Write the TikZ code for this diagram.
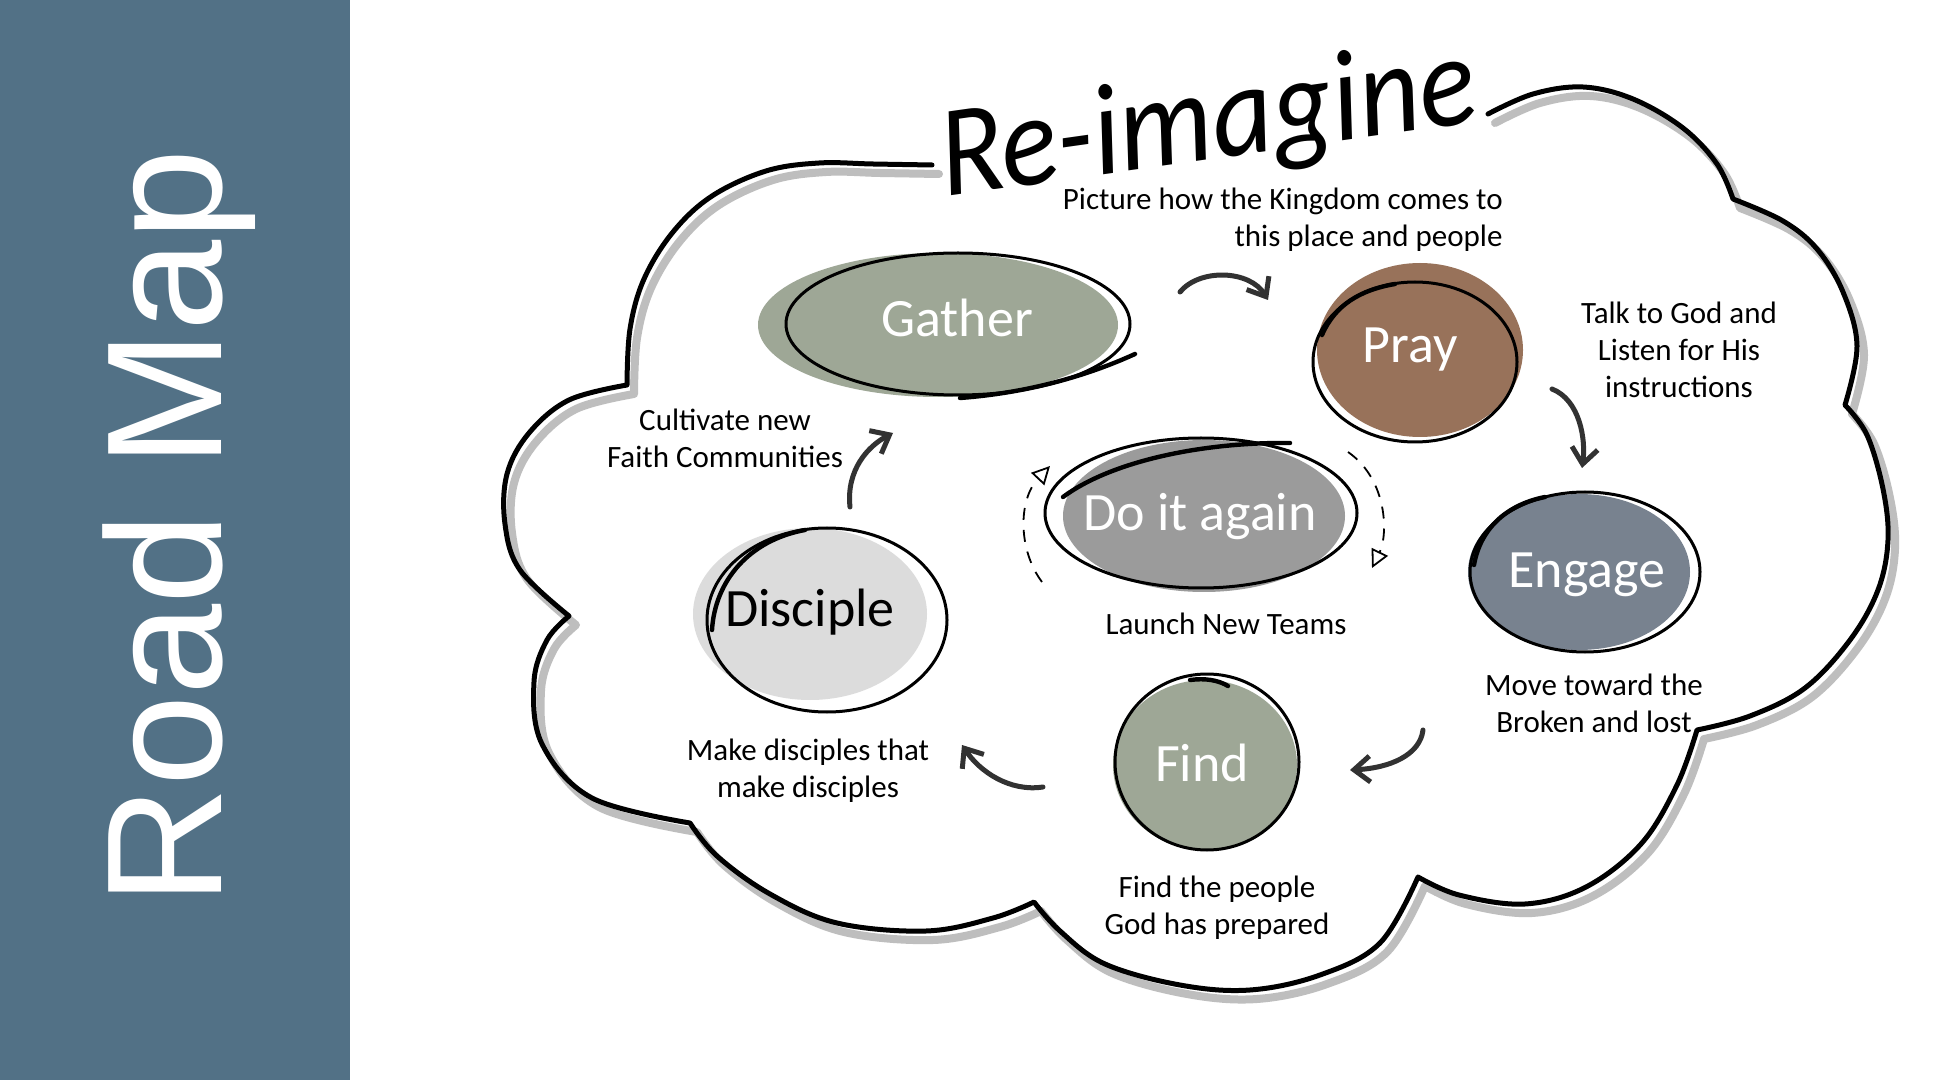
\documentclass[tikz,border=0pt]{standalone}
\usepackage{fontspec}
\setmainfont{Carlito}
\newfontfamily\panelfont{Liberation Sans}
\usetikzlibrary{arrows.meta,shapes.geometric}
\definecolor{panelblue}{RGB}{82,113,134}
\definecolor{sage}{RGB}{158,167,150}
\definecolor{brownfill}{RGB}{152,114,90}
\definecolor{slate}{RGB}{120,130,143}
\definecolor{midgrey}{RGB}{155,155,155}
\definecolor{lightgrey}{RGB}{220,220,220}
\definecolor{shadowgrey}{RGB}{190,190,190}
\definecolor{arrowgrey}{RGB}{50,50,50}
\newcommand\cloudpath{%
plot[smooth,tension=0.6] coordinates {(932,165) (873,164) (819,163) (766,171) (712,196) (673,232) (644,279) (630,329) (627,385)}
-- plot[smooth,tension=0.6] coordinates {(627,385) (569,400) (529,433) (507,474) (505,524) (520,570) (569,616)}
-- plot[smooth,tension=0.6] coordinates {(569,616) (547,640) (534,682) (542,744) (592,798) (690,823)}
-- plot[smooth,tension=0.6] coordinates {(690,823) (717,856) (770,894) (837,923) (926,931) (993,918) (1034,902)}
-- plot[smooth,tension=0.6] coordinates {(1034,902) (1060,931) (1105,964) (1180,985) (1250,990) (1320,975) (1380,943) (1418,877)}
-- plot[smooth,tension=0.6] coordinates {(1418,877) (1459,895) (1525,904) (1586,887) (1641,844) (1677,785) (1697,730)}
-- plot[smooth,tension=0.6] coordinates {(1697,730) (1750,716) (1805,688) (1850,640) (1878,590) (1888,540) (1883,489) (1867,435) (1845,405)}
-- plot[smooth,tension=0.6] coordinates {(1845,405) (1857,346) (1843,292) (1817,249) (1783,221) (1733,199)}
-- plot[smooth,tension=0.6] coordinates {(1733,199) (1717,164) (1683,128) (1633,99) (1583,87) (1533,94) (1488,114)}}
\begin{document}
\begin{tikzpicture}[x=0.5pt,y=-0.5pt,
  blob/.style={ellipse, inner sep=0pt, draw=none},
  sketch/.style={draw=black, line width=1.5pt},
  stroke/.style={draw=black, line width=2.2pt, line cap=round},
  nodetext/.style={font=\fontsize{27}{30}\selectfont, text=white, inner sep=0pt},
  lbl/.style={font=\fontsize{15.5}{18.5}\selectfont, align=center, inner sep=0pt},
  flow/.style={draw=arrowgrey, line width=2.5pt, line cap=round, -{Straight Barb[length=8pt,width=13pt,line width=2.5pt]}},
  loopy/.style={draw=black, line width=0.9pt, dash pattern=on 6pt off 5pt, -{Triangle[open,length=9pt,width=9pt,line width=0.9pt]}},
  cloudline/.style={line width=2.5pt, line join=round, line cap=round},
]
\useasboundingbox (0,0) rectangle (1934,1080);
\fill[white] (0,0) rectangle (1934,1080);
% side panel
\fill[panelblue] (0,0) rectangle (350,1080);
\node[font=\panelfont\fontsize{82}{90}\selectfont, text=white, rotate=90, anchor=base, inner sep=0pt] (title) at (221,527) {Road Map};
% cloud
\begin{scope}[shift={(7,9)}]
\draw[cloudline, draw=shadowgrey, line width=4pt] \cloudpath;
\end{scope}
\draw[cloudline, draw=black] \cloudpath;
% Re-imagine
\node[font=\itshape\fontsize{59}{62}\selectfont, rotate=8, inner sep=0pt] (reimagine) at (1208,126) {\scalebox{1}[1.1]{Re-imagine}};
% fills
\node[blob, fill=sage, minimum width=180pt, minimum height=72pt] (gatherfill) at (938,325) {};
\node[blob, fill=brownfill, minimum width=103pt, minimum height=87pt] (prayfill) at (1420,350) {};
\node[blob, fill=slate, minimum width=111pt, minimum height=78pt] (engagefill) at (1579,572) {};
\node[blob, fill=midgrey, minimum width=141pt, minimum height=76pt] (againfill) at (1204,516) {};
\node[blob, fill=lightgrey, minimum width=117pt, minimum height=86pt] (disciplefill) at (810,614) {};
\node[blob, fill=sage, minimum width=92pt, minimum height=85pt] (findfill) at (1205,765) {};
% outlines
\draw[sketch] (958,324) ellipse [x radius=86pt, y radius=35.5pt];
\draw[stroke] (960,398) .. controls (1040,392) and (1100,370) .. (1135,354);
\draw[sketch] (1415,362) ellipse [x radius=51pt, y radius=40pt];
\draw[stroke] (1322,335) .. controls (1335,305) and (1360,290) .. (1395,284);
\draw[sketch] (1585,572) ellipse [x radius=57.5pt, y radius=40pt];
\draw[stroke] (1474,565) .. controls (1480,530) and (1505,505) .. (1545,497);
\draw[sketch] (1201,513) ellipse [x radius=78pt, y radius=37.5pt];
\draw[stroke] (1063,497) .. controls (1110,462) and (1200,442) .. (1290,443);
\draw[sketch] (827,620) ellipse [x radius=60pt, y radius=46pt];
\draw[stroke] (712,630) .. controls (715,580) and (750,540) .. (805,530);
\draw[sketch] (1207,762) ellipse [x radius=46pt, y radius=44pt];
\draw[stroke] (1190,680) .. controls (1205,678) and (1218,680) .. (1228,686);
% node texts
\node[nodetext] (gather) at (957,318) {Gather};
\node[nodetext] (pray) at (1410,350) {Pray};
\node[nodetext] (engage) at (1587,575) {Engage};
\node[nodetext] (again) at (1200,517) {Do it again};
\node[nodetext, text=black] (disciple) at (810,612) {Disciple};
\node[nodetext] (find) at (1202,763) {Find};
% labels
\node[lbl, align=right, anchor=east] (picture) at (1503,220) {Picture how the Kingdom comes to\\this place and people};
\node[lbl] (talk) at (1679,350) {Talk to God and\\Listen for His\\instructions};
\node[lbl] (cultivate) at (725,438) {Cultivate new\\Faith Communities};
\node[lbl] (launch) at (1226,624) {Launch New Teams};
\node[lbl] (move) at (1594,703) {Move toward the\\Broken and lost};
\node[lbl] (make) at (808,771) {Make disciples that\\make disciples};
\node[lbl] (findlbl) at (1217,908) {Find the people\\God has prepared};
% arrows
\coordinate (a1s) at (1180,292); \coordinate (a1e) at (1268,300);
\coordinate (a2s) at (1552,389); \coordinate (a2e) at (1582,468);
\coordinate (a3s) at (1423,730); \coordinate (a3e) at (1350,770);
\coordinate (a4s) at (1043,787); \coordinate (a4e) at (962,745);
\coordinate (a5s) at (850,507); \coordinate (a5e) at (893,433);
\draw[flow] (a1s) .. controls (1200,268) and (1250,270) .. (a1e);
\draw[flow] (a2s) .. controls (1580,400) and (1586,440) .. (a2e);
\draw[flow] (a3s) .. controls (1420,755) and (1390,768) .. (a3e);
\draw[flow] (a4s) .. controls (1010,792) and (980,772) .. (a4e);
\draw[flow] (a5s) .. controls (846,470) and (868,446) .. (a5e);
% loop arcs
\coordinate (l1s) at (1042,582); \coordinate (l1e) at (1050,466);
\coordinate (l2s) at (1348,452); \coordinate (l2e) at (1372,568);
\draw[loopy] (l1s) .. controls (1018,550) and (1018,500) .. (l1e);
\draw[loopy] (l2s) .. controls (1388,480) and (1388,535) .. (l2e);
\end{tikzpicture}
\end{document}
